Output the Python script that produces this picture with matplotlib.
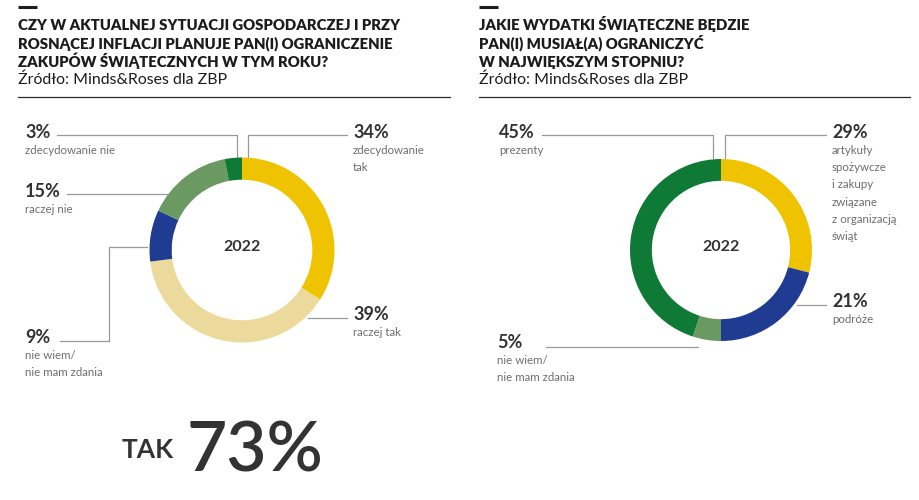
import matplotlib
matplotlib.use('Agg')
import matplotlib.pyplot as plt

plt.rcParams['font.family'] = ['Lato', 'DejaVu Sans']

# dane
left_title = ['CZY W AKTUALNEJ SYTUACJI GOSPODARCZEJ I PRZY',
              'ROSNĄCEJ INFLACJI PLANUJE PAN(I) OGRANICZENIE',
              'ZAKUPÓW ŚWIĄTECZNYCH W TYM ROKU?']
right_title = ['JAKIE WYDATKI ŚWIĄTECZNE BĘDZIE',
               'PAN(I) MUSIAŁ(A) OGRANICZYĆ',
               'W NAJWIĘKSZYM STOPNIU?']
source = 'Źródło: Minds&Roses dla ZBP'
year = '2022'

left_labels = ['zdecydowanie\ntak', 'raczej tak', 'nie wiem/\nnie mam zdania',
               'raczej nie', 'zdecydowanie nie']
left_values = [34, 39, 9, 15, 3]
right_labels = ['artykuły\nspożywcze\ni zakupy\nzwiązane\nz organizacją\nświąt',
                'podróże', 'nie wiem/\nnie mam zdania', 'prezenty']
right_values = [29, 21, 5, 45]

left_colors = ['#EFC300', '#EBDA9B', '#1F3B92', '#6A9961', '#0E7A36']
right_colors = ['#EFC300', '#1F3B92', '#6A9961', '#0E7A36']

W, H = 920, 500
DARK = '#1c1c1c'
NUM = '#333333'
GRAY = '#6e6e6e'
LINE = '#9a9a9a'

fig = plt.figure(figsize=(W / 100, H / 100), dpi=100, facecolor='white')
ov = fig.add_axes([0, 0, 1, 1])
ov.set_xlim(0, W)
ov.set_ylim(H, 0)
ov.axis('off')


def donut(cx, cy, r, values, colors):
    ax = fig.add_axes([(cx - r) / W, (H - cy - r) / H, 2 * r / W, 2 * r / H])
    ax.pie(values, colors=colors, startangle=90, counterclock=False,
           radius=1, wedgeprops=dict(width=0.24, linewidth=0))
    ax.set_xlim(-1, 1)
    ax.set_ylim(-1, 1)
    ax.axis('off')
    ax.text(0, 0.03, year, ha='center', va='center', fontsize=11.5,
            fontweight='bold', color=NUM)


def header(x0, x1, lines):
    ov.plot([x0, x0 + 19], [7, 7], color=DARK, lw=2.2, solid_capstyle='butt')
    for i, t in enumerate(lines):
        ov.text(x0, 30 + i * 18.7, t, fontsize=10.7, fontweight='heavy',
                color=DARK, va='baseline', ha='left')
    ov.text(x0, 84, source, fontsize=11.4, color=DARK, va='baseline', ha='left')
    ov.plot([x0, x1], [97, 97], color='#2a2a2a', lw=0.9)


def label(x, y, value, text):
    ov.text(x, y, f'{value}%', fontsize=13, fontweight='bold', color=NUM,
            va='baseline', ha='left')
    for i, t in enumerate(text.split('\n')):
        ov.text(x, y + 16 + i * 17.2, t, fontsize=8.3, color=GRAY,
                va='baseline', ha='left')


def leader(xs, ys):
    ov.plot(xs, ys, color=LINE, lw=0.9)


header(18, 450, left_title)
header(479, 910, right_title)

donut(242, 250, 92.5, left_values, left_colors)
donut(721, 250, 91, right_values, right_colors)

# lewy wykres - etykiety
left_pos = [(353, 138), (353, 320), (25, 343), (25, 197), (25, 138)]
for (x, y), v, t in zip(left_pos, left_values, left_labels):
    label(x, y, v, t)
leader([347, 248, 248], [135, 135, 158])
leader([308, 347], [318, 318])
leader([60, 109, 109, 147], [341, 341, 247, 247])
leader([67, 167], [194, 194])
leader([57, 237, 237], [135, 135, 158])

# prawy wykres - etykiety
right_pos = [(832, 138), (832, 307), (497, 348), (499, 138)]
for (x, y), v, t in zip(right_pos, right_values, right_labels):
    label(x, y, v, t)
leader([826, 725, 725], [135, 135, 158])
leader([797, 826], [305, 305])
leader([546, 698], [347, 347])
leader([542, 713, 713], [135, 135, 158])

# TAK 73%
tak = left_values[0] + left_values[1]
ov.text(122, 458, 'TAK', fontsize=19, fontweight='bold', color=NUM,
        va='baseline', ha='left')
ov.text(187, 472, f'{tak}%', fontsize=50, fontweight='semibold', color=NUM,
        va='baseline', ha='left')

fig.savefig('out.png', dpi=100, facecolor='white')
